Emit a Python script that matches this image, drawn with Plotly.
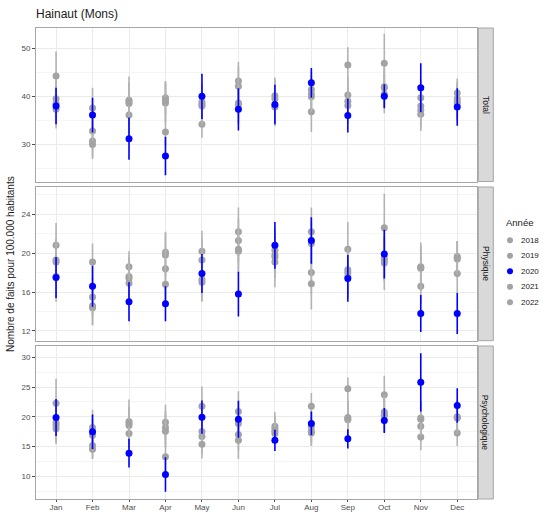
import plotly.graph_objects as go

months = ["Jan", "Feb", "Mar", "Apr", "May", "Jun", "Jul", "Aug", "Sep", "Oct", "Nov", "Dec"]
years = ["2018", "2019", "2020", "2021", "2022"]
panels = ["Total", "Physique", "Psychologique"]

# ---- Total ----
total_2018 = [44.2, 37.6, 39.2, 39.7, 38.3, 43.2, 40.1, 41.4, 46.5, 46.9, 39.7, 40.7]
total_2018_err = [5.1, 4.2, 4.9, 3.5, 4.0, 4.0, 3.8, 3.8, 3.7, 6.1, 3.8, 3.0]
total_2019 = [39.5, 32.8, 38.5, 38.6, 38.8, 42.1, 37.8, 39.9, 40.3, 41.8, 37.1, 38.9]
total_2019_err = [4.0, 4.0, 4.0, 4.0, 4.0, 4.0, 4.0, 3.8, 3.8, 4.0, 3.8, 3.5]
total_2020 = [38.0, 36.1, 31.2, 27.6, 40.0, 37.3, 38.3, 42.8, 36.0, 40.0, 41.8, 37.8]
total_2020_err = [3.8, 3.6, 4.4, 4.0, 4.7, 4.4, 4.1, 3.1, 3.5, 2.5, 5.1, 3.9]
total_2021 = [37.3, 30.7, 36.1, 32.6, 34.2, 38.6, 38.0, 36.8, 38.1, 40.5, 36.3, 38.5]
total_2021_err = [4.0, 3.3, 4.0, 3.0, 2.8, 4.0, 4.0, 4.2, 3.8, 4.0, 3.5, 3.5]
total_2022 = [38.5, 30.0, 38.8, 39.2, 38.0, 38.2, 39.5, 40.5, 39.0, 42.0, 38.0, 39.5]
total_2022_err = [4.0, 3.0, 4.0, 3.8, 4.0, 4.0, 4.0, 3.8, 3.8, 4.0, 3.8, 3.5]

# ---- Physique ----
phys_2018 = [20.8, 19.1, 18.6, 20.1, 20.2, 22.2, 20.3, 22.2, 20.4, 22.6, 18.6, 19.65]
phys_2018_err = [2.3, 1.9, 1.6, 2.1, 2.1, 2.5, 2.2, 2.5, 2.8, 3.5, 2.5, 1.6]
phys_2019 = [19.1, 15.5, 17.6, 19.8, 19.3, 21.3, 19.6, 18.0, 18.3, 19.3, 18.45, 19.4]
phys_2019_err = [2.2, 2.0, 2.0, 2.2, 2.2, 2.2, 2.2, 2.2, 2.2, 2.2, 2.2, 1.8]
phys_2020 = [17.5, 16.6, 15.0, 14.8, 17.9, 15.8, 20.8, 21.3, 17.4, 19.9, 13.8, 13.8]
phys_2020_err = [2.1, 2.1, 2.0, 1.8, 2.0, 2.3, 2.4, 2.4, 2.4, 2.5, 1.9, 2.1]
phys_2021 = [17.6, 14.4, 17.4, 18.4, 17.3, 20.2, 19.1, 16.85, 18.0, 19.0, 16.6, 17.9]
phys_2021_err = [2.6, 1.8, 2.0, 2.2, 2.2, 2.2, 2.6, 2.65, 2.2, 2.8, 1.8, 2.0]
phys_2022 = [19.3, 14.6, 16.9, 16.8, 17.0, 20.4, 19.8, 21.0, 17.6, 19.5, 18.5, 19.5]
phys_2022_err = [2.2, 2.0, 2.0, 2.0, 2.0, 2.2, 2.2, 2.2, 2.2, 2.2, 2.2, 1.7]

# ---- Psychologique ----
psy_2018 = [22.3, 18.2, 19.2, 19.1, 21.8, 20.9, 18.4, 21.8, 24.7, 23.7, 19.8, 20.0]
psy_2018_err = [4.1, 3.0, 3.7, 2.95, 3.3, 3.4, 2.4, 2.2, 1.9, 3.2, 2.8, 2.8]
psy_2019 = [19.0, 16.9, 18.55, 18.2, 17.55, 18.9, 17.2, 18.3, 19.7, 20.4, 18.4, 19.8]
psy_2019_err = [2.8, 2.8, 2.8, 2.8, 2.8, 2.8, 1.5, 2.5, 3.2, 2.8, 2.6, 2.8]
psy_2020 = [19.9, 17.5, 13.9, 10.3, 19.95, 19.6, 16.05, 18.9, 16.3, 19.4, 25.8, 21.9]
psy_2020_err = [3.1, 2.9, 2.4, 2.9, 2.8, 3.1, 1.8, 2.0, 1.6, 2.1, 4.9, 2.9]
psy_2021 = [18.0, 15.2, 17.2, 17.6, 16.7, 17.05, 18.0, 17.3, 19.5, 20.8, 16.6, 17.3]
psy_2021_err = [2.6, 2.2, 2.5, 2.8, 2.8, 2.8, 2.0, 2.2, 2.8, 2.8, 2.2, 2.2]
psy_2022 = [18.6, 14.55, 18.9, 13.3, 15.4, 16.05, 17.6, 17.6, 19.9, 20.2, 19.6, 19.9]
psy_2022_err = [2.8, 1.65, 2.8, 2.5, 2.4, 3.15, 2.0, 2.4, 2.8, 2.8, 2.8, 2.8]

panel_data = {
    "Total": {"2018": (total_2018, total_2018_err), "2019": (total_2019, total_2019_err),
              "2020": (total_2020, total_2020_err), "2021": (total_2021, total_2021_err),
              "2022": (total_2022, total_2022_err)},
    "Physique": {"2018": (phys_2018, phys_2018_err), "2019": (phys_2019, phys_2019_err),
                 "2020": (phys_2020, phys_2020_err), "2021": (phys_2021, phys_2021_err),
                 "2022": (phys_2022, phys_2022_err)},
    "Psychologique": {"2018": (psy_2018, psy_2018_err), "2019": (psy_2019, psy_2019_err),
                      "2020": (psy_2020, psy_2020_err), "2021": (psy_2021, psy_2021_err),
                      "2022": (psy_2022, psy_2022_err)},
}

y_ranges = {"Total": [22.3, 54.2], "Physique": [11.0, 26.8], "Psychologique": [6.2, 31.9]}
y_dticks = {"Total": 10, "Physique": 4, "Psychologique": 5}

# ---- layout geometry (pixels -> paper fractions) ----
W, H = 544, 512
ML, MR, MT, MB = 36, 0, 28, 13
PW, PH = W - ML - MR, H - MT - MB


def px(xp):
    return (xp - ML) / PW


def py(yp):
    return (H - MB - yp) / PH


PANEL_RIGHT = 477.3
domains = {"Total": [py(181.5), 1.0], "Physique": [py(340.7), py(187.0)],
           "Psychologique": [0.0, py(346.0)]}
x_dom = [0.0, px(PANEL_RIGHT)]

GREY = "#A3A3A3"
GREY_BAR = "#B3B3B3"
BLUE = "#0000FF"
FONT = "Liberation Sans, Arial, sans-serif"


def year_color(yr):
    return BLUE if yr == "2020" else GREY


def bar_color(yr):
    return BLUE if yr == "2020" else GREY_BAR


xs = list(range(1, 13))
fig = go.Figure()

draw_order = ["2018", "2019", "2021", "2022", "2020"]

for pi, panel in enumerate(panels):
    suffix = "" if pi == 0 else str(pi + 1)
    for yr in draw_order:
        vals, errs = panel_data[panel][yr]
        fig.add_trace(go.Scatter(
            x=xs, y=vals, mode="markers", name=yr, showlegend=False,
            marker=dict(color=year_color(yr), size=7),
            error_y=dict(type="data", array=errs, visible=True, color=bar_color(yr),
                         thickness=1.6, width=0),
            xaxis="x" + suffix, yaxis="y" + suffix,
            hovertemplate=panel + " " + yr + ": %{y}<extra></extra>",
        ))

# ---- legend (drawn on its own hidden axes, one glyph per year) ----
LEG_X0 = 493.2
LEG_ITEM_TOP, LEG_ITEM_STEP = 240.3, 15.5
LEG_TOP, LEG_BOT = 205.0, 315.0
glyph_x = 510.0 - LEG_X0
text_x = 519.0 - LEG_X0
title_x = 504.0 - LEG_X0
for yr in years:
    fig.add_trace(go.Scatter(
        x=[glyph_x], y=[yr], mode="markers", showlegend=False, hoverinfo="skip",
        marker=dict(color=year_color(yr), size=6),
        error_y=dict(type="constant", value=0.45, visible=True, color=bar_color(yr),
                     thickness=1.5, width=0),
        xaxis="x4", yaxis="y4",
    ))

layout = dict(
    width=W, height=H,
    margin=dict(l=ML, r=MR, t=MT, b=MB, autoexpand=False),
    paper_bgcolor="white", plot_bgcolor="white",
    font=dict(family=FONT, color="#4D4D4D", size=8),
    title=dict(text="Hainaut (Mons)", x=0, xref="paper", xanchor="left",
               y=1 - 14 / H, yref="container", yanchor="middle",
               font=dict(size=12, color="#1A1A1A", family=FONT)),
    showlegend=False,
)

shapes = []
annotations = []
for pi, panel in enumerate(panels):
    suffix = "" if pi == 0 else str(pi + 1)
    is_bottom = panel == "Psychologique"
    layout["xaxis" + suffix] = dict(
        domain=x_dom, anchor="y" + suffix, range=[0.45, 12.55],
        tickmode="array", tickvals=xs, ticktext=months,
        showticklabels=is_bottom, ticks="outside" if is_bottom else "",
        ticklen=2, ticklabelstandoff=-2, tickcolor="#4D4D4D",
        tickfont=dict(size=8, color="#4D4D4D"),
        showgrid=True, gridcolor="#EBEBEB", gridwidth=1,
        showline=True, linecolor="#A6A6A6", linewidth=1, mirror=True,
        zeroline=False, fixedrange=True, automargin=False,
    )
    layout["yaxis" + suffix] = dict(
        domain=domains[panel], anchor="x" + suffix, range=y_ranges[panel],
        dtick=y_dticks[panel], tick0=0, ticks="outside", ticklen=3,
        tickcolor="#4D4D4D", tickfont=dict(size=8, color="#4D4D4D"),
        showgrid=True, gridcolor="#EBEBEB", gridwidth=1,
        minor=dict(dtick=y_dticks[panel] / 2, showgrid=True, gridcolor="#F5F5F5", gridwidth=0.6),
        showline=True, linecolor="#A6A6A6", linewidth=1, mirror=True,
        zeroline=False, fixedrange=True, automargin=False,
    )
    d0, d1 = domains[panel]
    shapes.append(dict(type="rect", xref="paper", yref="paper",
                       x0=px(PANEL_RIGHT + 1), x1=px(493.3), y0=d0, y1=d1,
                       fillcolor="#D9D9D9", line=dict(color="#A6A6A6", width=1)))
    annotations.append(dict(text=panel, xref="paper", yref="paper",
                            x=px((PANEL_RIGHT + 1 + 493.3) / 2), y=(d0 + d1) / 2,
                            showarrow=False, textangle=90,
                            font=dict(size=8.5, color="#1A1A1A", family=FONT),
                            xanchor="center", yanchor="middle"))

# legend axes
leg_range_top = -(LEG_ITEM_TOP - LEG_TOP) / LEG_ITEM_STEP
leg_range_bot = (LEG_BOT - LEG_ITEM_TOP) / LEG_ITEM_STEP
layout["xaxis4"] = dict(domain=[px(LEG_X0), 1.0], anchor="y4", range=[0, W - LEG_X0],
                        visible=False, fixedrange=True)
layout["yaxis4"] = dict(domain=[py(LEG_BOT), py(LEG_TOP)], anchor="x4", type="category",
                        categoryorder="array", categoryarray=years,
                        range=[leg_range_bot, leg_range_top], visible=False, fixedrange=True)
annotations.append(dict(text="Année", xref="x4", yref="y4", x=title_x,
                        y=-(LEG_ITEM_TOP - 222.7) / LEG_ITEM_STEP, showarrow=False,
                        xanchor="left", yanchor="middle",
                        font=dict(size=9.5, color="#1A1A1A", family=FONT)))
for i, yr in enumerate(years):
    annotations.append(dict(text=yr, xref="x4", yref="y4", x=text_x, y=i, showarrow=False,
                            xanchor="left", yanchor="middle",
                            font=dict(size=8, color="#1A1A1A", family=FONT)))

annotations.append(dict(text="Nombre de faits pour 100.000 habitants", xref="paper", yref="paper",
                        x=px(10), y=py(264), showarrow=False, textangle=-90,
                        font=dict(size=10, color="#1A1A1A", family=FONT),
                        xanchor="center", yanchor="middle"))

layout["shapes"] = shapes
layout["annotations"] = annotations
fig.update_layout(**layout)

fig.write_html("out.html")
